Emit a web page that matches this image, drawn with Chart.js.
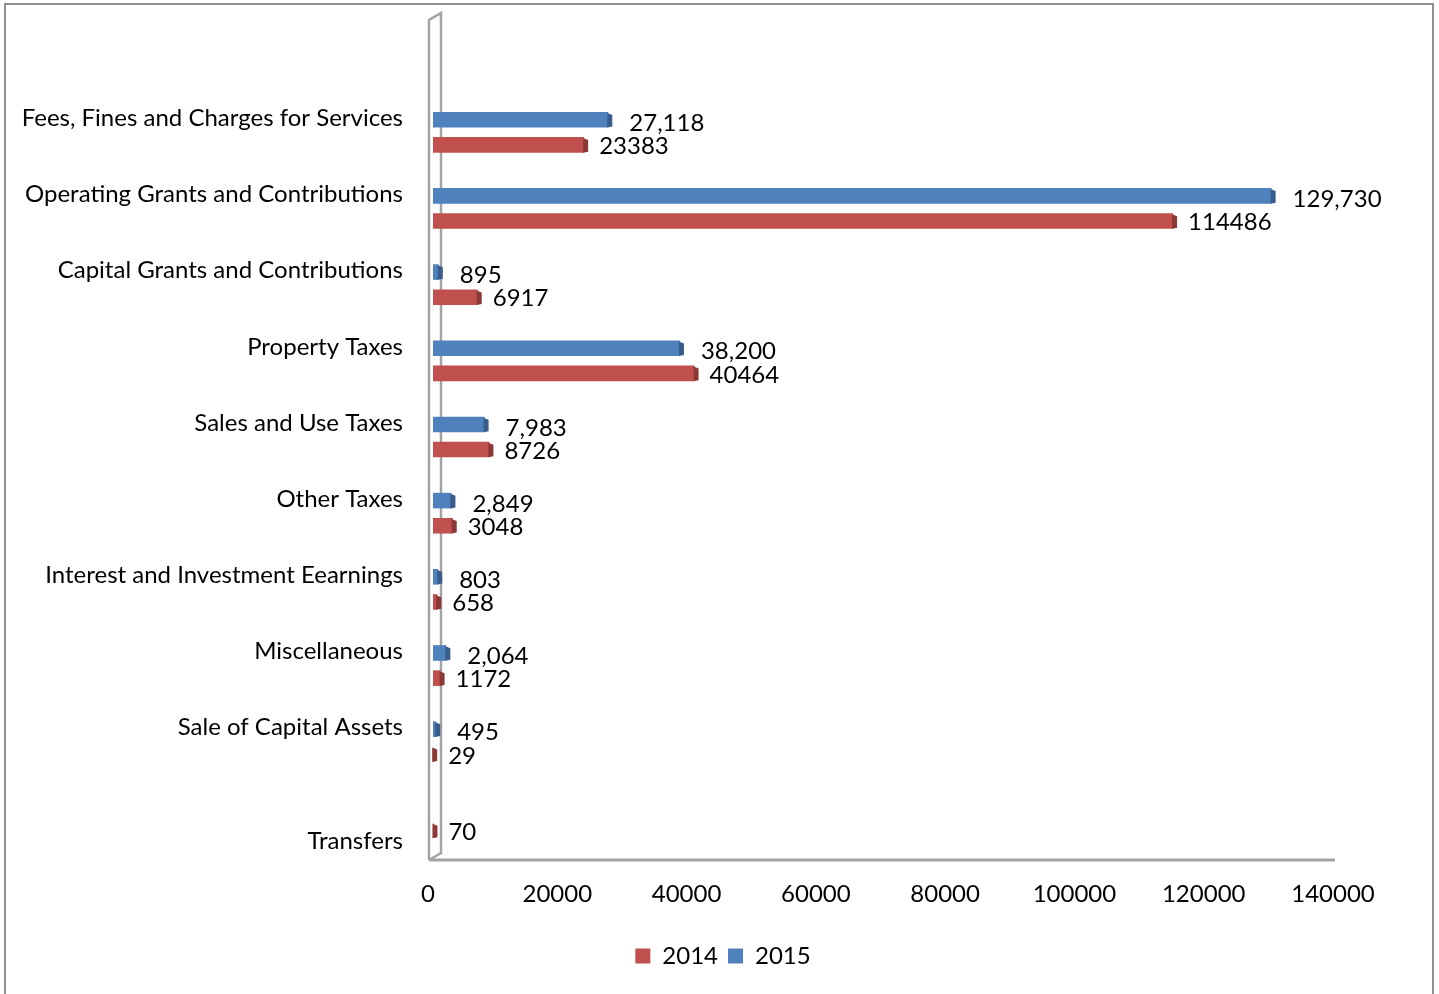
<!DOCTYPE html>
<html>
<head>
<meta charset="utf-8">
<title>General Revenues 2014 - 2015</title>
<script src="https://cdn.jsdelivr.net/npm/chart.js@4.4.1/dist/chart.umd.min.js"></script>
<style>
    html, body { margin: 0; padding: 0; background: #fff; }
    #wrap { position: relative; width: 1439px; height: 994px; overflow: hidden; }
    #frame { position: absolute; left: 4px; top: 3px; width: 1430px; height: 1010px; border: 2px solid #8e8e8e; box-sizing: border-box; }
    #myChart { position: absolute; left: 0; top: 0; }
</style>
</head>
<body>
<div id="wrap">
    <div id="frame"></div>
    <canvas id="myChart" width="1439" height="994"></canvas>
</div>
<script>
// revenue categories, top to bottom (first row is left empty on purpose)
let categories = ['', 'Fees, Fines and Charges for Services', 'Operating Grants and Contributions',
    'Capital Grants and Contributions', 'Property Taxes', 'Sales and Use Taxes', 'Other Taxes',
    'Interest and Investment Eearnings', 'Miscellaneous', 'Sale of Capital Assets', 'Transfers']
let values2015 = [null, 27118, 129730, 895, 38200, 7983, 2849, 803, 2064, 495, null]
let values2014 = [null, 23383, 114486, 6917, 40464, 8726, 3048, 658, 1172, 29, 70]
let axisMin = 0
let axisMax = 140000
let axisStep = 20000

const blue = '#4f81bd'
const blueDark = '#385d8a'
const red = '#c0504d'
const redDark = '#8c3836'

Chart.defaults.font.family = 'Lato'
Chart.defaults.font.size = 24
Chart.defaults.color = '#000'

// left wall + floor of the 3d frame, drawn behind the bars
const wallPlugin = {
    id: 'wall',
    beforeDatasetsDraw(chart) {
        const { ctx, chartArea } = chart
        const fx = chartArea.left - 4, bx = chartArea.left + 8
        const top = chartArea.top, bottom = chartArea.bottom + 4
        ctx.save()
        ctx.strokeStyle = '#a3a3a3'
        ctx.lineWidth = 2.5
        ctx.beginPath()
        ctx.moveTo(fx, bottom)
        ctx.lineTo(fx, top + 2)
        ctx.lineTo(bx, top - 5)
        ctx.lineTo(bx, bottom - 7)
        ctx.lineTo(fx, bottom)
        ctx.stroke()
        ctx.lineWidth = 3
        ctx.beginPath()
        ctx.moveTo(fx, bottom)
        ctx.lineTo(chartArea.right - 3, bottom)
        ctx.stroke()
        ctx.restore()
    }
}

// darker end face on each bar and the value labels
const barLabelPlugin = {
    id: 'barLabels',
    afterDatasetsDraw(chart) {
        const { ctx } = chart
        ctx.save()
        chart.data.datasets.forEach((ds, i) => {
            const meta = chart.getDatasetMeta(i)
            meta.data.forEach((bar, j) => {
                const v = ds.data[j]
                if (v == null) return
                const top = bar.y - bar.height / 2
                const bottom = bar.y + bar.height / 2
                ctx.fillStyle = ds.sideColor
                ctx.beginPath()
                ctx.moveTo(bar.x - 1, top + 1)
                ctx.lineTo(bar.x + 4, top + 3)
                ctx.lineTo(bar.x + 4, bottom - 1)
                ctx.lineTo(bar.x - 1, bottom)
                ctx.closePath()
                ctx.fill()

                ctx.fillStyle = '#000'
                ctx.font = '24px Lato'
                ctx.textAlign = 'left'
                ctx.textBaseline = 'middle'
                ctx.fillText(ds.format(v), bar.x + ds.labelGap, bar.y + ds.labelShift)
            })
        })
        ctx.restore()
    }
}

let ctx = document.getElementById('myChart').getContext('2d')
let myChart = new Chart(ctx, {
    type: 'bar',
    data: {
        labels: categories,
        datasets: [{
            label: '2015',
            data: values2015,
            backgroundColor: blue,
            sideColor: blueDark,
            format: v => v.toLocaleString('en-US'),
            labelGap: 21,
            labelShift: 3.5,
            categoryPercentage: 0.66,
            barPercentage: 0.62
        }, {
            label: '2014',
            data: values2014,
            backgroundColor: red,
            sideColor: redDark,
            format: v => String(v),
            labelGap: 15,
            labelShift: 1.5,
            categoryPercentage: 0.66,
            barPercentage: 0.62
        }]
    },
    options: {
        indexAxis: 'y',
        responsive: false,
        animation: false,
        layout: { padding: { top: 18, right: 0, bottom: 16, left: 7 } },
        scales: {
            x: {
                min: axisMin,
                max: axisMax,
                grid: { display: false, drawTicks: false },
                border: { display: false },
                ticks: { stepSize: axisStep, padding: 24, labelOffset: -5, maxRotation: 0, callback: v => String(v) },
                afterFit: s => { s.height = 78 }
            },
            y: {
                grid: { display: false, drawTicks: false },
                border: { display: false },
                ticks: {
                    padding: 30,
                    labelOffset: -14,
                    autoSkip: false,
                    font: { size: 24, lineHeight: 1.05 },
                    callback: function (value, index) {
                        let name = this.getLabelForValue(value)
                        // last row label sits lower than the others
                        return index === categories.length - 1 ? ['', '', '', name] : name
                    }
                },
                afterFit: s => { s.width = 426; s.paddingTop = 0; s.paddingBottom = 0 }
            },
            // empty strip on the right, keeps room for the end labels
            yRight: {
                position: 'right',
                grid: { display: false, drawTicks: false },
                border: { display: false },
                ticks: { display: false },
                afterFit: s => { s.width = 101; s.paddingTop = 0; s.paddingBottom = 0 }
            }
        },
        plugins: {
            legend: {
                position: 'bottom',
                reverse: true,
                labels: { boxWidth: 15, boxHeight: 15, padding: 10, font: { size: 24 } }
            },
            tooltip: { enabled: false }
        }
    },
    plugins: [wallPlugin, barLabelPlugin]
})
</script>
</body>
</html>
